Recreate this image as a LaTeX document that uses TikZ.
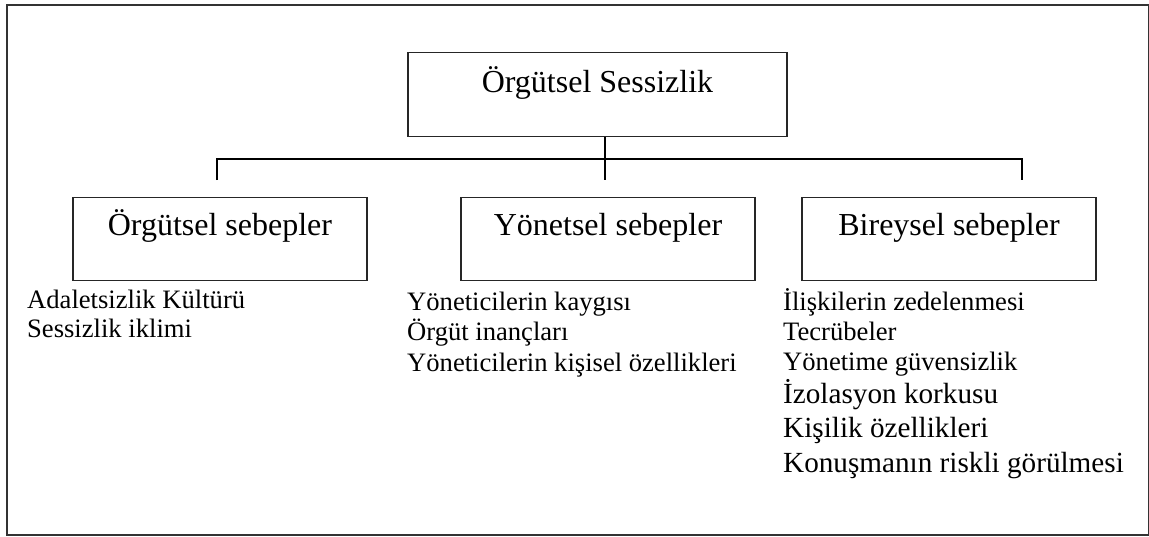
\documentclass[tikz,border=0pt]{standalone}
\usepackage{fontspec}
\setmainfont{Liberation Serif}
\begin{document}
\begin{tikzpicture}[x=1pt,y=-1pt,
  boxnode/.style={draw=black!85,line width=1.1pt,inner ysep=0pt,inner xsep=0pt,
    font=\fontsize{32}{36}\selectfont},
  catbox/.style={boxnode,minimum width=294pt,text height=38pt,text depth=45pt,anchor=north},
  itemtext/.style={anchor=base west,inner sep=0pt,font=\fontsize{26.6}{30}\selectfont},
  bigitem/.style={anchor=base west,inner sep=0pt,font=\fontsize{29.2}{33}\selectfont},
  link/.style={line width=2.4pt,black}
]
\useasboundingbox (0,0) rectangle (1149,536);
\draw[black!80,line width=1.5pt] (7,5) rectangle (1148.5,535);

\node[boxnode,minimum width=379pt,text height=40pt,text depth=44pt,anchor=north] (top) at (597.5,52) {Örgütsel Sessizlik};

\node[catbox] (org) at (220,197) {Örgütsel sebepler};
\node[catbox] (yon) at (608,197) {Yönetsel sebepler};
\node[catbox] (bir) at (949,197) {Bireysel sebepler};

\coordinate (hm) at (605,159);
\coordinate (hl) at (217,159);
\coordinate (hr) at (1022,159);
\coordinate (dm) at (605,180);
\coordinate (dl) at (217,180);
\coordinate (dr) at (1022,180);
\draw[link] (top.south -| hm) -- (dm);
\draw[link,line join=miter] (dl) -- (hl) -- (hr) -- (dr);

\node[itemtext] (o1) at (27,308) {Adaletsizlik Kültürü};
\node[itemtext] (o2) at (27,337) {Sessizlik iklimi};

\node[itemtext] (y1) at (407,310) {Yöneticilerin kaygısı};
\node[itemtext] (y2) at (407,340) {Örgüt inançları};
\node[itemtext] (y3) at (407,371) {Yöneticilerin kişisel özellikleri};

\node[itemtext] (b1) at (783,310) {İlişkilerin zedelenmesi};
\node[itemtext] (b2) at (783,340) {Tecrübeler};
\node[itemtext] (b3) at (783,370) {Yönetime güvensizlik};
\node[bigitem] (b4) at (783,403) {İzolasyon korkusu};
\node[bigitem] (b5) at (783,437) {Kişilik özellikleri};
\node[bigitem] (b6) at (783,472) {Konuşmanın riskli görülmesi};
\end{tikzpicture}
\end{document}
